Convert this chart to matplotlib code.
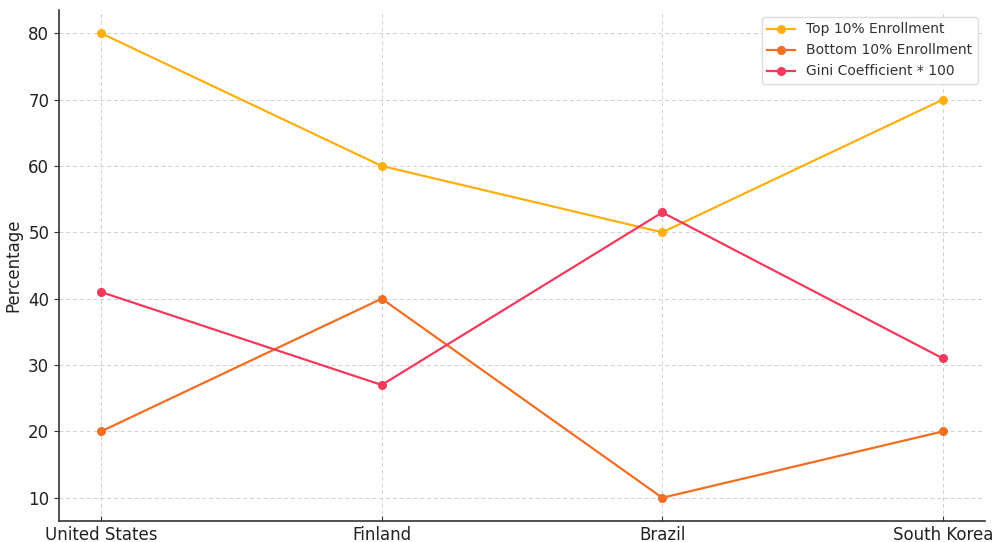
import matplotlib
matplotlib.use("Agg")
import matplotlib.pyplot as plt

plt.rcParams['font.family'] = ['DejaVu Sans']

countries = ["United States", "Finland", "Brazil", "South Korea"]
top10 = [80, 60, 50, 70]
bottom10 = [20, 40, 10, 20]
gini100 = [41, 27, 53, 31]

fig = plt.figure(figsize=(9.92, 5.42), dpi=100)
ax = fig.add_axes([59/992, 1-521/542, (985-59)/992, (521-10)/542])

ax.plot(countries, top10, marker='o', color='#FFAF0F', label='Top 10% Enrollment', markersize=5.5, linewidth=1.6)
ax.plot(countries, bottom10, marker='o', color='#F26E22', label='Bottom 10% Enrollment', markersize=5.5, linewidth=1.6)
ax.plot(countries, gini100, marker='o', color='#F23A5C', label='Gini Coefficient * 100', markersize=5.5, linewidth=1.6)

ax.set_ylabel('Percentage', fontsize=12, color='#222222')
ax.grid(True, linestyle=(0, (4, 3)), color='#d0d0d0', linewidth=0.7)
ax.set_axisbelow(True)
for s in ['top', 'right']:
    ax.spines[s].set_visible(False)
for s in ['left', 'bottom']:
    ax.spines[s].set_color('#333333')
    ax.spines[s].set_linewidth(1.2)
ax.tick_params(axis='x', direction='in', labelsize=12, labelcolor='#222222', color='#333333')
ax.tick_params(axis='y', direction='out', labelsize=12, labelcolor='#222222', color='#333333')
ax.set_yticks([10, 20, 30, 40, 50, 60, 70, 80])
ax.set_xlim(-0.15, 3.15)
ax.set_ylim(6.5, 83.5)
leg = ax.legend(loc='upper right', fontsize=10, framealpha=1, edgecolor='#dddddd')
for t in leg.get_texts():
    t.set_color('#333333')

fig.savefig('out.png', dpi=100)
